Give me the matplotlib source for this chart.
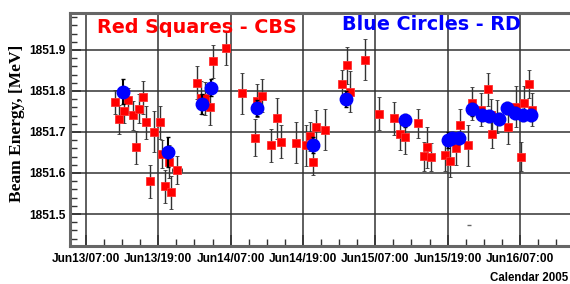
import datetime
import numpy as np
import matplotlib
matplotlib.use('Agg')
import matplotlib.pyplot as plt
import matplotlib.dates as mdates
from matplotlib.ticker import MultipleLocator

# hours since 2005-06-13 00:00
cbs_hours = [11.80, 12.41, 13.29, 14.00, 14.73, 15.32, 15.82, 16.43, 16.93, 17.64,
             18.25, 19.20, 19.63, 20.19, 20.74, 21.18, 22.06, 25.42, 26.15, 26.81,
             27.52, 28.02, 30.22, 32.87, 35.02, 35.35, 36.25, 37.67, 38.73, 39.39,
             41.87, 43.58, 44.24, 44.62, 45.18, 46.72, 49.49, 50.25, 50.81, 53.29,
             55.61, 58.03, 59.09, 59.85, 62.11, 63.11, 63.65, 64.32, 66.58, 67.46,
             68.35, 69.07, 70.44, 71.10, 72.59, 73.75, 74.15, 74.41, 75.24, 77.06,
             78.28, 79.21, 79.66, 80.48, 80.93]
cbs_energy = [1851.773, 1851.731, 1851.751, 1851.777, 1851.741, 1851.663, 1851.757, 1851.785, 1851.724, 1851.580,
              1851.701, 1851.724, 1851.646, 1851.568, 1851.627, 1851.553, 1851.607, 1851.820, 1851.784, 1851.782,
              1851.761, 1851.872, 1851.904, 1851.794, 1851.686, 1851.776, 1851.788, 1851.667, 1851.734, 1851.676,
              1851.674, 1851.668, 1851.689, 1851.626, 1851.713, 1851.705, 1851.817, 1851.863, 1851.798, 1851.876,
              1851.745, 1851.733, 1851.695, 1851.687, 1851.721, 1851.641, 1851.663, 1851.639, 1851.645, 1851.629,
              1851.660, 1851.717, 1851.668, 1851.770, 1851.754, 1851.804, 1851.741, 1851.695, 1851.737, 1851.711,
              1851.762, 1851.640, 1851.771, 1851.817, 1851.754]
cbs_err = [0.03, 0.035, 0.03, 0.03, 0.035, 0.04, 0.035, 0.04, 0.04, 0.04,
           0.05, 0.04, 0.035, 0.04, 0.04, 0.04, 0.035, 0.04, 0.04, 0.04,
           0.045, 0.04, 0.04, 0.05, 0.045, 0.04, 0.04, 0.04, 0.05, 0.04,
           0.05, 0.05, 0.035, 0.03, 0.04, 0.05, 0.035, 0.045, 0.05, 0.05,
           0.04, 0.04, 0.04, 0.04, 0.035, 0.035, 0.05, 0.035, 0.04, 0.04,
           0.04, 0.04, 0.05, 0.04, 0.04, 0.04, 0.04, 0.035, 0.04, 0.04,
           0.05, 0.035, 0.04, 0.035, 0.04]
cbs_herr = [0.0] * len(cbs_hours)
cbs_herr[16] = 0.85

rd_hours = [13.12, 20.57, 26.20, 27.80, 35.35, 44.62, 50.08, 59.92, 67.13, 67.79,
            68.90, 71.00, 72.66, 73.87, 75.52, 76.80, 78.17, 79.55, 80.77]
rd_energy = [1851.798, 1851.651, 1851.768, 1851.808, 1851.759, 1851.668, 1851.780, 1851.728, 1851.680, 1851.685,
             1851.685, 1851.755, 1851.741, 1851.739, 1851.731, 1851.758, 1851.746, 1851.741, 1851.741]
rd_err = [0.03, 0.037, 0.025, 0.02, 0.02, 0.02, 0.02, 0.015, 0.02, 0.015,
          0.015, 0.015, 0.015, 0.015, 0.015, 0.015, 0.015, 0.015, 0.015]

# two stray marks without a symbol
stray_hours = [70.57, 70.57]
stray_energy = [1851.668, 1851.473]

base = mdates.date2num(datetime.datetime(2005, 6, 13))
def to_num(h):
    return base + np.asarray(h) / 24.0

fig = plt.figure(figsize=(5.7, 2.84), dpi=100)
ax = fig.add_axes([70 / 570, 38 / 284, 1 - 70 / 570, (246 - 13) / 284])

ax.errorbar(to_num(cbs_hours), cbs_energy, yerr=cbs_err, xerr=np.asarray(cbs_herr) / 24.0,
            fmt='s', color='#ff0000', ms=5.8, mec='#ff3030', mew=0.6,
            ecolor='#333333', elinewidth=1.0, capsize=1.5, capthick=1.0, zorder=3)
ax.errorbar(to_num(rd_hours), rd_energy, yerr=rd_err, fmt='o', color='#0000ff',
            ms=9, mec='#0000ff', ecolor='black', elinewidth=1.5, capsize=1.5, zorder=4)
ax.plot(to_num(stray_hours), stray_energy, '_', color='0.4', ms=3, mew=1)

ax.set_xlim(to_num(4.35), to_num(87.3))
ax.set_ylim(1851.422, 1851.99)

ax.xaxis.set_major_locator(mdates.HourLocator(byhour=[7, 19]))
ax.xaxis.set_minor_locator(mdates.HourLocator(byhour=range(1, 24, 3)))
ax.xaxis.set_major_formatter(mdates.DateFormatter('%b%d/%H:%M'))
ax.yaxis.set_major_locator(MultipleLocator(0.1))
ax.yaxis.set_minor_locator(MultipleLocator(0.02))
ax.yaxis.set_major_formatter(matplotlib.ticker.FuncFormatter(
    lambda v, p: '%.1f' % v if v < 1851.95 else ''))

ax.grid(True, which='major', color='0.2', lw=1.1)
ax.tick_params(which='both', direction='in', top=False, right=False, color='0.2')
ax.tick_params(which='major', length=8, width=1.2, pad=3)
ax.tick_params(which='minor', length=5, width=1.0)
ax.tick_params(axis='x', pad=5)
for lab in ax.get_xticklabels() + ax.get_yticklabels():
    lab.set_fontfamily('Liberation Sans')
    lab.set_fontweight('bold')
    lab.set_fontsize(8.6)

for side in ['left', 'bottom', 'top']:
    ax.spines[side].set_color('0.4')
    ax.spines[side].set_linewidth(2.2)
ax.spines['right'].set_visible(False)

fig.text(97 / 570, 1 - 33 / 284, 'Red Squares - CBS', color='#ff0000', fontsize=13.8,
         fontweight='bold', family='DejaVu Sans', va='baseline', ha='left')
fig.text(342 / 570, 1 - 30 / 284, 'Blue Circles - RD', color='#0000ff', fontsize=13.8,
         fontweight='bold', family='DejaVu Sans', va='baseline', ha='left')
fig.text(17 / 570, 1 - 123 / 284, 'Beam Energy, [MeV]', rotation=90, fontsize=12.5,
         fontweight='bold', family='Liberation Serif', ha='center', va='center')
fig.text(568 / 570, 1 - 281 / 284, 'Calendar 2005', fontsize=8.3, fontweight='bold',
         family='Liberation Sans', ha='right', va='baseline')

fig.savefig('out.png', dpi=100)
